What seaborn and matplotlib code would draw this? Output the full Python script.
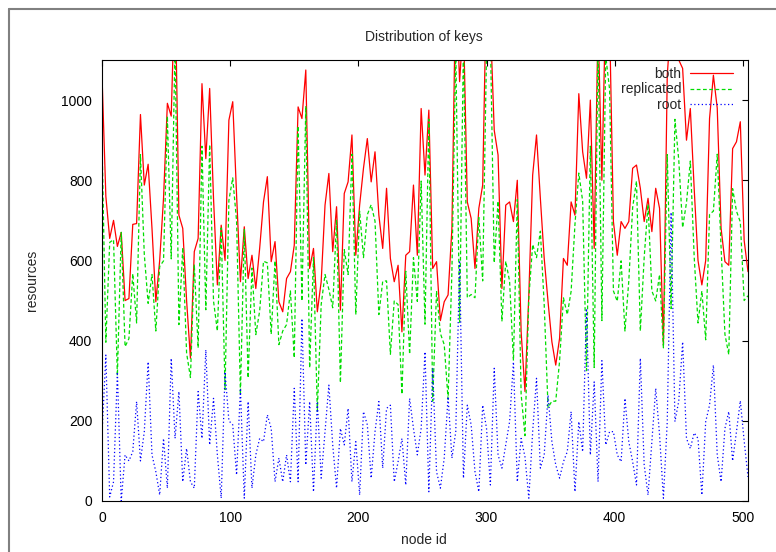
import pandas as pd
import matplotlib
matplotlib.use("Agg")
import matplotlib.pyplot as plt
import seaborn as sns
from matplotlib.lines import Line2D

# node ids sampled every 3rd node
node_id = list(range(0, 505, 3))

both = [
    1062, 760, 655, 700, 635, 670, 500, 505, 690, 692,
    964, 788, 840, 680, 497, 600, 755, 992, 960, 1300,
    713, 680, 500, 356, 622, 655, 1041, 854, 1029, 755,
    539, 688, 600, 950, 996, 763, 547, 684, 555, 613,
    530, 630, 746, 809, 597, 647, 497, 472, 555, 572,
    638, 983, 954, 1075, 580, 630, 472, 547, 738, 817,
    622, 734, 476, 767, 796, 913, 613, 738, 830, 904,
    796, 871, 713, 630, 780, 605, 547, 588, 422, 613,
    622, 788, 613, 979, 813, 975, 580, 597, 450, 497,
    514, 680, 1300, 1046, 1200, 746, 705, 580, 730, 788,
    1300, 1200, 925, 863, 530, 738, 746, 697, 800, 422,
    273, 514, 813, 913, 755, 605, 497, 397, 339, 406,
    605, 588, 746, 713, 1016, 871, 805, 1000, 630, 1200,
    800, 1250, 1200, 697, 613, 697, 680, 697, 830, 838,
    780, 697, 755, 672, 780, 730, 389, 1062, 1200, 1150,
    1100, 1079, 900, 979, 780, 600, 539, 600, 954, 1062,
    980, 680, 597, 588, 879, 896, 946, 650, 572,
]

replicated = [
    897, 396, 645, 652, 313, 670, 385, 405, 567, 444,
    864, 615, 493, 565, 424, 585, 599, 960, 604, 1144,
    440, 632, 369, 308, 590, 382, 885, 477, 889, 499,
    424, 681, 278, 750, 806, 698, 266, 677, 307, 581,
    415, 474, 598, 594, 416, 599, 390, 424, 440, 524,
    357, 935, 499, 985, 332, 607, 224, 490, 565, 528,
    482, 702, 295, 627, 565, 865, 465, 723, 607, 714,
    739, 698, 465, 548, 549, 366, 499, 490, 266, 573,
    366, 607, 498, 798, 441, 952, 249, 524, 418, 390,
    254, 573, 1127, 446, 1143, 507, 515, 507, 707, 549,
    1119, 1160, 594, 748, 448, 598, 548, 350, 752, 266,
    163, 507, 640, 607, 673, 490, 233, 249, 249, 349,
    507, 465, 523, 690, 818, 748, 325, 885, 333, 1152,
    450, 1110, 1027, 524, 498, 599, 424, 549, 732, 798,
    424, 607, 740, 524, 499, 565, 382, 864, 480, 952,
    850, 682, 744, 848, 610, 444, 524, 402, 715, 723,
    865, 632, 416, 365, 779, 723, 696, 500, 512,
]

root = [
    165, 364, 10, 48, 322, 0, 115, 100, 123, 248,
    100, 173, 347, 115, 73, 15, 156, 32, 356, 156,
    273, 48, 131, 48, 32, 273, 156, 377, 140, 256,
    115, 7, 322, 200, 190, 65, 281, 7, 248, 32,
    115, 156, 148, 215, 181, 48, 107, 48, 115, 48,
    281, 48, 455, 90, 248, 23, 248, 57, 173, 289,
    140, 32, 181, 140, 231, 48, 148, 15, 223, 190,
    57, 173, 248, 82, 231, 239, 48, 98, 156, 40,
    256, 181, 115, 181, 372, 23, 331, 73, 32, 107,
    260, 107, 173, 600, 57, 239, 190, 73, 23, 239,
    181, 40, 331, 115, 82, 140, 198, 347, 48, 156,
    110, 7, 173, 306, 82, 115, 264, 148, 90, 57,
    98, 123, 223, 23, 198, 123, 480, 115, 297, 48,
    350, 140, 173, 173, 115, 98, 256, 148, 98, 40,
    356, 90, 15, 148, 281, 165, 7, 198, 720, 198,
    250, 397, 156, 131, 170, 156, 15, 198, 239, 339,
    115, 48, 181, 223, 100, 173, 250, 150, 60,
]

series_names = ["both", "replicated", "root"]
colors = {"both": "#ff0000", "replicated": "#00dd00", "root": "#0000ff"}
dash_styles = {"both": "", "replicated": (3, 2), "root": (1, 2)}

df = pd.concat([
    pd.DataFrame({"node id": node_id, "resources": both, "series": "both"}),
    pd.DataFrame({"node id": node_id, "resources": replicated, "series": "replicated"}),
    pd.DataFrame({"node id": node_id, "resources": root, "series": "root"}),
])

sns.set_style("white")
plt.rcParams["font.family"] = ["Liberation Sans", "DejaVu Sans"]

W, H = 776, 552
fig = plt.figure(figsize=(W / 100, H / 100), dpi=100)
ax = fig.add_axes([102 / W, 1 - 501 / H, (748 - 102) / W, (501 - 60) / H])

sns.lineplot(data=df, x="node id", y="resources", hue="series", style="series",
             hue_order=series_names, style_order=series_names,
             palette=colors, dashes=dash_styles, linewidth=0.9,
             estimator=None, sort=False, ax=ax, legend=False)

ax.set_xlim(0, 504)
ax.set_ylim(0, 1100)
ax.set_xticks([0, 100, 200, 300, 400, 500])
ax.set_yticks([0, 200, 400, 600, 800, 1000])
ax.tick_params(direction="in", top=True, right=True, length=4.5, width=0.8,
               labelsize=10, pad=7, colors="black")
for s in ax.spines.values():
    s.set_color("black")
    s.set_linewidth(0.8)
ax.set_xlabel("")
ax.set_ylabel("")

fig.text(424 / W, 1 - 37 / H, "Distribution of keys", ha="center", va="center", fontsize=10)
fig.text(424 / W, 1 - 540 / H, "node id", ha="center", va="center", fontsize=10)
fig.text(32 / W, 1 - 280 / H, "resources", ha="center", va="center", rotation=90, fontsize=10)

handles = []
for n in series_names:
    h = Line2D([], [], color=colors[n], linewidth=0.9)
    if dash_styles[n]:
        h.set_dashes(dash_styles[n])
    handles.append(h)
fig.legend(handles, series_names, loc="upper right",
           bbox_to_anchor=(733 / W, 1 - 67 / H), frameon=False, markerfirst=False,
           handlelength=3.1, handletextpad=0.6, labelspacing=0.1,
           borderpad=0, borderaxespad=0, fontsize=10)

# outer frame (only left and top edges visible in the picture)
fig.add_artist(Line2D([9 / W, 9 / W], [0, 1 - 9 / H], color="#808080", linewidth=1.5))
fig.add_artist(Line2D([9 / W, 1], [1 - 9 / H, 1 - 9 / H], color="#808080", linewidth=1.5))

fig.savefig("out.png", dpi=100)
